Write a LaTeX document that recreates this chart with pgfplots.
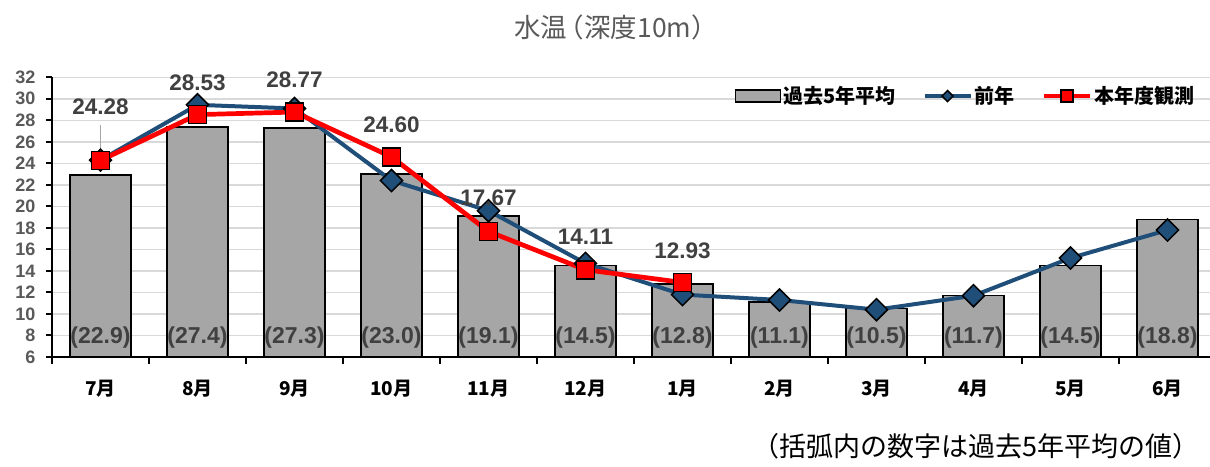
\documentclass[border=0pt]{standalone}
\usepackage{fontspec}
\setmainfont{Liberation Sans}
\newfontfamily\cjk{Noto Sans CJK JP}
\usepackage{pgfplots}
\pgfplotsset{compat=1.18}
\definecolor{bargray}{RGB}{166,166,166}
\definecolor{prevblue}{RGB}{31,78,121}
\definecolor{lblgray}{RGB}{64,64,64}
\definecolor{tickgray}{RGB}{89,89,89}
\definecolor{gridgray}{RGB}{217,217,217}
\begin{document}
\begin{tikzpicture}
\useasboundingbox (0pt,0pt) rectangle (1210pt,466pt);
\node[font=\cjk\fontsize{26.5}{26.5}\selectfont, text=tickgray] at (616pt,439pt) {水温\kern-0.35em（深度10m）};
\node[font=\cjk\fontsize{27}{27}\selectfont, anchor=east] at (1203pt,20pt) {（括弧内の数字は過去5年平均の値）};
\begin{axis}[
  at={(52pt,109pt)}, anchor=south west,
  scale only axis, width=1164pt, height=279.7pt,
  xmin=-0.5, xmax=11.5, ymin=6, ymax=32,
  axis x line*=bottom, axis y line*=left,
  axis line style={black, line width=2pt},
  ytick={6,8,...,32},
  xtick={0,...,11},
  xticklabels={7月,8月,9月,10月,11月,12月,1月,2月,3月,4月,5月,6月},
  minor xtick={-0.5,0.5,...,11.5},
  major x tick style={draw=none},
  minor x tick style={black, line width=2pt},
  ytick style={black, line width=2pt},
  major tick length=6pt, minor tick length=7pt,
  tick align=outside,
  ymajorgrids, major grid style={gridgray, line width=1.5pt},
  /pgf/number format/assume math mode=true,
  yticklabel style={font=\bfseries\fontsize{18}{18}\selectfont, text=tickgray, xshift=-7pt},
  xticklabel style={font=\cjk\bfseries\fontsize{19}{19}\selectfont, text=black, yshift=-14pt},
  legend style={at={(0.5865,0.933)}, anchor=west, draw=none, fill=none,
    font=\cjk\bfseries\fontsize{20}{20}\selectfont,
    /tikz/every even column/.append style={column sep=25pt},
    inner sep=0pt},
  legend columns=3,
]
\addplot[ybar, bar width=61pt, fill=bargray, draw=black, line width=1.5pt,
  legend image code/.code={\draw[fill=bargray, draw=black, line width=1.5pt] (0pt,-6pt) rectangle (45pt,6pt);}]
  coordinates {(0,22.9) (1,27.4) (2,27.3) (3,23.0) (4,19.1) (5,14.5) (6,12.8) (7,11.1) (8,10.5) (9,11.7) (10,14.5) (11,18.8)};
\addlegendentry{過去5年平均}
\addplot[prevblue, line width=4pt, mark=square*, mark size=7.8pt,
  mark options={rotate=45, fill=prevblue, draw=black, line width=1.5pt},
  legend image code/.code={\draw[prevblue, line width=4pt, mark=square*, mark repeat=2, mark phase=2, mark size=3.9pt, mark options={rotate=45, fill=prevblue, draw=black, line width=1.5pt}] plot coordinates {(0pt,0pt) (23pt,0pt) (46pt,0pt)};}]
  coordinates {(0,24.3) (1,29.44) (2,29.1) (3,22.4) (4,19.6) (5,14.7) (6,11.8) (7,11.3) (8,10.4) (9,11.7) (10,15.2) (11,17.8)};
\addlegendentry{前年}
\addplot[red, line width=4.7pt, mark=square*, mark size=9pt,
  mark options={fill=red, draw=black, line width=1.5pt},
  legend image code/.code={\draw[red, line width=4.7pt, mark=square*, mark repeat=2, mark phase=2, mark size=6pt, mark options={fill=red, draw=black, line width=1.5pt}] plot coordinates {(0pt,0pt) (23pt,0pt) (46pt,0pt)};}]
  coordinates {(0,24.28) (1,28.53) (2,28.77) (3,24.60) (4,17.67) (5,14.11) (6,12.93)};
\addlegendentry{本年度観測}
\draw[gray!70, line width=1pt] (axis cs:0,27.6) -- (axis cs:0,24.4);
\addplot[forget plot, draw=none, nodes near coords, point meta=explicit symbolic,
  every node near coord/.append style={anchor=center, font=\bfseries\fontsize{22.5}{22.5}\selectfont, text=lblgray}]
  table[meta=lab] {
x y lab
0 29.26 24.28
1 31.5 28.53
2 31.8 28.77
3 27.58 24.60
4 20.76 17.67
5 17.19 14.11
6 15.89 12.93
};
\addplot[forget plot, draw=none, nodes near coords, point meta=explicit symbolic,
  every node near coord/.append style={anchor=base, font=\bfseries\fontsize{23}{23}\selectfont, text=lblgray}]
  table[meta=lab] {
x y lab
0 7.28 (22.9)
1 7.28 (27.4)
2 7.28 (27.3)
3 7.28 (23.0)
4 7.28 (19.1)
5 7.28 (14.5)
6 7.28 (12.8)
7 7.28 (11.1)
8 7.28 (10.5)
9 7.28 (11.7)
10 7.28 (14.5)
11 7.28 (18.8)
};
\end{axis}
\end{tikzpicture}
\end{document}
